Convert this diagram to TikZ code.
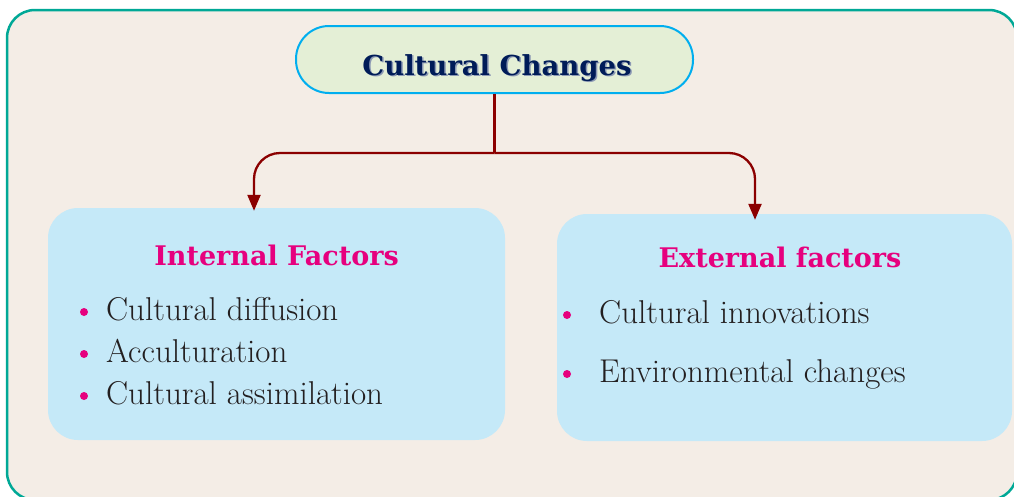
\documentclass[tikz,border=0pt]{standalone}
\usepackage{fontspec}
\newfontfamily\headfont{DejaVu Serif}
\usetikzlibrary{arrows.meta}
\definecolor{paper}{RGB}{244,237,230}
\definecolor{frameteal}{RGB}{0,168,150}
\definecolor{titlefill}{RGB}{228,239,214}
\definecolor{titleline}{RGB}{0,174,239}
\definecolor{navy}{RGB}{0,28,88}
\definecolor{boxblue}{RGB}{197,233,248}
\definecolor{magenta}{RGB}{230,0,126}
\definecolor{darkred}{RGB}{139,0,0}
\definecolor{inkgray}{RGB}{35,31,32}
\begin{document}
\begin{tikzpicture}[x=1pt,y=-1pt,
  factorbox/.style={fill=boxblue,rounded corners=30pt,inner sep=0},
  heading/.style={font=\headfont\fontsize{27}{30}\selectfont\bfseries,text=magenta,inner sep=0,anchor=base},
  item/.style={font=\fontsize{33}{36}\selectfont,text=inkgray,inner sep=0,anchor=base west},
  dot/.style={circle,fill=magenta,minimum size=8pt,inner sep=0},
  link/.style={darkred,line width=2.3pt},
  tip/.style={-{Triangle[length=16pt,width=13pt]},rounded corners=26pt}]
  \useasboundingbox (0,0) rectangle (1014,496);
  \draw[frameteal,line width=2.5pt,fill=paper,rounded corners=28pt] (7,10) rectangle (1017,500);
  % title
  \node[draw=titleline,line width=2pt,fill=titlefill,rounded corners=33pt,minimum width=397pt,minimum height=67pt,inner sep=0] (title) at (494.5,59.5) {};
  \node[font=\headfont\fontsize{27.5}{30}\selectfont\bfseries,text=navy!45,inner sep=0,anchor=base] (titleshadow) at (498.5,76.5) {Cultural Changes};
  \node[font=\headfont\fontsize{27.5}{30}\selectfont\bfseries,text=navy,inner sep=0,anchor=base] (titletext) at (497,75) {Cultural Changes};
  % boxes
  \path[factorbox] (48,208) rectangle (505,440);
  \node[inner sep=0,minimum width=457pt,minimum height=232pt] (internal) at (276.5,324) {};
  \path[factorbox] (557,214) rectangle (1012,441);
  \node[inner sep=0,minimum width=455pt,minimum height=227pt] (external) at (784.5,327.5) {};
  % connectors
  \coordinate (fork) at (title.south |- 0,153);
  \draw[link] (title.south) -- (fork);
  \draw[link,tip] (fork) -| ([xshift=-22.5pt,yshift=-3pt]internal.north);
  \draw[link,tip] (fork) -| ([xshift=-29.5pt,yshift=-6pt]external.north);
  % internal factors
  \node[heading] (inthead) at (276.5,265) {Internal Factors};
  \node[item] (int1) at (106,320) {Cultural diffusion};
  \node[item] (int2) at (106,362) {Acculturation};
  \node[item] (int3) at (106,404) {Cultural assimilation};
  \node[dot] (intdot1) at (84,312) {};
  \node[dot] (intdot2) at (84,354) {};
  \node[dot] (intdot3) at (84,396) {};
  % external factors
  \node[heading] (exthead) at (780,267) {External factors};
  \node[item] (ext1) at (599,323) {Cultural innovations};
  \node[item] (ext2) at (599,382) {Environmental changes};
  \node[dot] (extdot1) at (567,315) {};
  \node[dot] (extdot2) at (567,374) {};
\end{tikzpicture}
\end{document}
